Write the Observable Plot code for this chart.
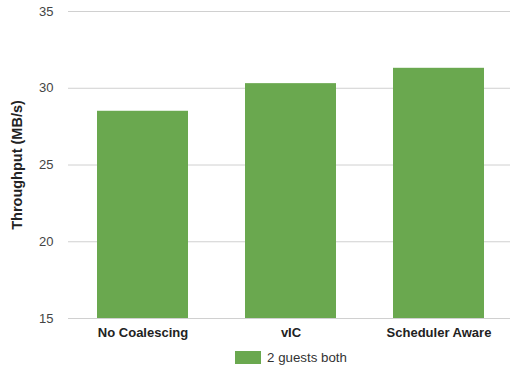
<!DOCTYPE html>
<html>
<head>
<meta charset="utf-8">
<script src="https://cdn.jsdelivr.net/npm/d3@7"></script>
<script src="https://cdn.jsdelivr.net/npm/@observablehq/plot@0.6"></script>
<style>
  html, body { margin: 0; padding: 0; background: #fff; }
  body { width: 512px; height: 369px; overflow: hidden; font-family: "Liberation Sans", Arial, sans-serif; }
  #legend { display: flex; justify-content: center; align-items: center; margin-left: 70px; margin-top: 5px; font-size: 13.3px; color: #333; }
  #legend .sw { width: 26px; height: 13px; background: #6aa84f; margin-right: 6px; }
</style>
</head>
<body>
<div id="chart"></div>
<div id="legend"><span class="sw"></span><span>2 guests both</span></div>
<script>
const categories = ["No Coalescing", "vIC", "Scheduler Aware"];
const throughput = [28.5, 30.3, 31.3];
const seriesName = "2 guests both";
const yTicks = [15, 20, 25, 30, 35];

const data = categories.map((c, i) => ({category: c, value: throughput[i]}));

const chart = Plot.plot({
  width: 512,
  height: 345,
  marginTop: 11,
  marginBottom: 27,
  marginLeft: 68,
  marginRight: 0,
  style: {fontFamily: "Liberation Sans, Arial, sans-serif", fontSize: "13px", color: "#444", background: "#fff"},
  x: {domain: categories, range: [69, 513], paddingInner: 0.383, paddingOuter: 0.19, label: null},
  y: {domain: [15, 35], ticks: yTicks, label: null},
  marks: [
    Plot.gridY(yTicks, {insetRight: 2, stroke: "#d0d0d0", strokeOpacity: 1, strokeWidth: 1}),
    Plot.barY(data, {x: "category", y1: 15, y2: "value", fill: "#6aa84f"}),
    Plot.axisY(yTicks, {tickSize: 0, tickPadding: 15, fontSize: 13, fill: "#444", label: null}),
    Plot.axisX(categories, {tickSize: 0, tickPadding: 9, fontSize: 13, fontWeight: "bold", fill: "#222", label: null}),
    Plot.text(["Throughput (MB/s)"], {frameAnchor: "left", textAnchor: "middle", dx: -51, rotate: -90, fontSize: 14.5, fontWeight: "bold", fill: "#222"})
  ]
});
document.getElementById("chart").appendChild(chart);
</script>
</body>
</html>
